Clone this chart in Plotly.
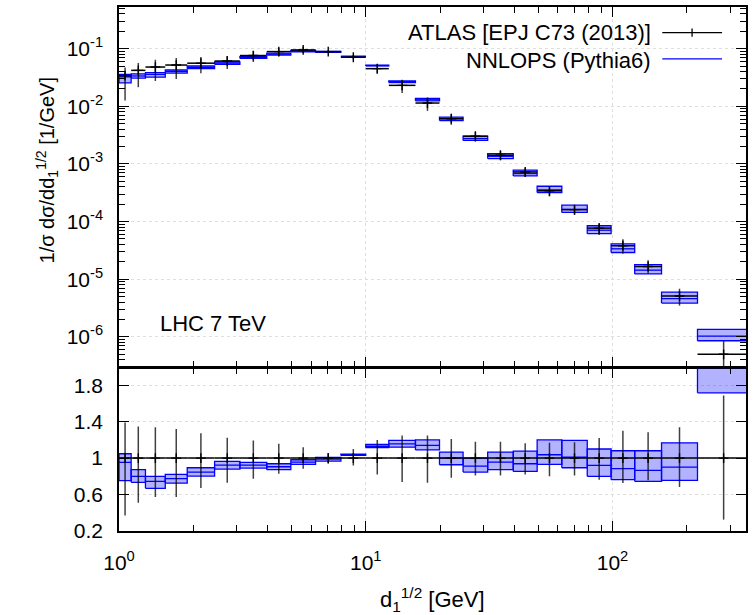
import plotly.graph_objects as go
import math

# ---- data ----
bin_edges = [1.0, 1.12, 1.28, 1.54, 1.89, 2.44, 3.09, 3.97, 4.97, 6.26, 7.93, 10.0,
             12.4, 15.9, 19.9, 24.8, 31.2, 39.6, 49.5, 62.3, 79.0, 98.7, 123.0,
             158.0, 221.0, 360.0]

atlas_val = [0.034, 0.042, 0.048, 0.052, 0.056, 0.061, 0.076, 0.089, 0.095, 0.089,
             0.071, 0.045, 0.0231, 0.0114, 0.0061, 0.00302, 0.00142, 0.000726,
             0.000342, 0.000161, 7.7e-5, 3.81e-5, 1.66e-5, 5.1e-6, 4.98e-7]
# relative uncertainties (up / down)
atlas_rel_up = [0.39, 0.347, 0.34, 0.32, 0.274, 0.224, 0.194, 0.158, 0.12, 0.055,
                0.10, 0.20, 0.249, 0.249, 0.21, 0.18, 0.18, 0.164, 0.168, 0.175,
                0.22, 0.30, 0.285, 0.34, 0.687]
atlas_rel_dn = [0.63, 0.489, 0.427, 0.427, 0.329, 0.27, 0.226, 0.171, 0.116, 0.062,
                0.08, 0.18, 0.263, 0.27, 0.215, 0.19, 0.19, 0.18, 0.20, 0.19,
                0.237, 0.274, 0.244, 0.318, 0.675]

# NNLOPS / ATLAS ratio: central, lower and upper band
nnlops_ratio = [0.953, 0.80, 0.745, 0.774, 0.847, 0.924, 0.923, 0.905, 0.956, 0.989,
                1.037, 1.13, 1.157, 1.139, 1.0, 0.913, 0.956, 0.938, 1.037, 1.011,
                0.92, 0.884, 0.865, 0.902, 2.07]
nnlops_ratio_lo = [0.752, 0.734, 0.668, 0.726, 0.803, 0.880, 0.891, 0.873, 0.931, 0.967,
                   1.030, 1.114, 1.12, 1.09, 0.927, 0.847, 0.873, 0.854, 0.931, 0.894,
                   0.80, 0.763, 0.745, 0.756, 1.717]
nnlops_ratio_hi = [1.048, 0.873, 0.80, 0.821, 0.894, 0.964, 0.953, 0.938, 0.982, 1.008,
                   1.044, 1.15, 1.194, 1.20, 1.066, 1.0, 1.066, 1.077, 1.20, 1.194,
                   1.10, 1.081, 1.081, 1.168, 2.7]

x_tick_vals = [1, 10, 100]
x_tick_text = ['10<sup>0</sup>', '10<sup>1</sup>', '10<sup>2</sup>']
y_tick_vals = [1e-6, 1e-5, 1e-4, 1e-3, 1e-2, 1e-1]
y_tick_text = ['10<sup>-6</sup>', '10<sup>-5</sup>', '10<sup>-4</sup>',
               '10<sup>-3</sup>', '10<sup>-2</sup>', '10<sup>-1</sup>']
r_tick_vals = [0.2, 0.6, 1.0, 1.4, 1.8]
r_tick_text = ['0.2', '0.6', '1', '1.4', '1.8']

# ---- derived ----
n = len(atlas_val)
lo_e = bin_edges[:-1]
hi_e = bin_edges[1:]
centers = [math.sqrt(a * b) for a, b in zip(lo_e, hi_e)]
ex_plus = [b - c for b, c in zip(hi_e, centers)]
ex_minus = [c - a for a, c in zip(lo_e, centers)]

mc_c = [v * r for v, r in zip(atlas_val, nnlops_ratio)]
mc_lo = [v * r for v, r in zip(atlas_val, nnlops_ratio_lo)]
mc_hi = [v * r for v, r in zip(atlas_val, nnlops_ratio_hi)]


def box_path(lo, hi):
    xs, ys = [], []
    for i in range(n):
        a, b = lo_e[i], hi_e[i]
        xs += [a, b, b, a, a, None]
        ys += [lo[i], lo[i], hi[i], hi[i], lo[i], None]
    return xs, ys


def step_path(vals):
    xs, ys = [], []
    for i in range(n):
        xs += [lo_e[i], hi_e[i], None]
        ys += [vals[i], vals[i], None]
    return xs, ys


BLUE = '#0000ff'
FILL = 'rgba(0,0,255,0.30)'
ERRC = 'rgba(0,0,0,0.75)'
FONT = 'Liberation Sans, Arial, sans-serif'

fig = go.Figure()

for (xa, ya, lo, hi, c, yv, up, dn) in [
        ('x', 'y', mc_lo, mc_hi, mc_c, atlas_val,
         [v * u for v, u in zip(atlas_val, atlas_rel_up)],
         [v * d for v, d in zip(atlas_val, atlas_rel_dn)]),
        ('x2', 'y2', nnlops_ratio_lo, nnlops_ratio_hi, nnlops_ratio, [1.0] * n,
         atlas_rel_up, atlas_rel_dn)]:
    bx, by = box_path(lo, hi)
    fig.add_trace(go.Scatter(x=bx, y=by, xaxis=xa, yaxis=ya, mode='lines',
                             fill='toself', fillcolor=FILL,
                             line=dict(color=BLUE, width=1.3), hoverinfo='skip',
                             showlegend=False))
    sx, sy = step_path(c)
    fig.add_trace(go.Scatter(x=sx, y=sy, xaxis=xa, yaxis=ya, mode='lines',
                             line=dict(color=BLUE, width=1.3), hoverinfo='skip',
                             showlegend=False))
    fig.add_trace(go.Scatter(
        x=centers, y=yv, xaxis=xa, yaxis=ya, mode='markers',
        marker=dict(symbol='cross-thin-open', size=7, color='black',
                    line=dict(color='black', width=1.4)),
        error_x=dict(type='data', symmetric=False, array=ex_plus,
                     arrayminus=ex_minus, width=0, thickness=1.5, color='black'),
        error_y=dict(type='data', symmetric=False, array=up, arrayminus=dn,
                     width=0, thickness=1.5, color=ERRC),
        showlegend=False, hoverinfo='skip'))

minor_x = [m * 10 ** k for k in range(0, 3) for m in range(2, 10)]
minor_y = [m * 10 ** k for k in range(-7, 0) for m in range(2, 10)]

TICKSIZE = 21
axis_common = dict(showline=True, linecolor='black', linewidth=1.5, mirror='ticks',
                   ticks='inside', tickcolor='black', tickwidth=1.2, ticklen=10,
                   showgrid=True, gridcolor='#dedede', griddash='dot', gridwidth=1,
                   zeroline=False,
                   tickfont=dict(family=FONT, size=TICKSIZE, color='black'))

x_range = [0, 2.541]
PLOT_H = 525.0
split = 0.313
gap = 1.5 / PLOT_H
fig.update_layout(
    width=753, height=615,
    margin=dict(l=119, r=5, t=6, b=84),
    paper_bgcolor='white', plot_bgcolor='white',
    showlegend=False,
    xaxis=dict(type='log', range=x_range, anchor='y', matches='x2',
               showticklabels=False, tickmode='array', tickvals=x_tick_vals,
               minor=dict(ticks='inside', ticklen=6, tickwidth=1.2, tickcolor='black',
                          tickmode='array', tickvals=minor_x, showgrid=False),
               **axis_common),
    yaxis=dict(type='log', range=[-6.523, -0.277], domain=[split, 1], anchor='x',
               tickmode='array', tickvals=y_tick_vals, ticktext=y_tick_text,
               ticklabelstandoff=10,
               minor=dict(ticks='inside', ticklen=6, tickwidth=1.2, tickcolor='black',
                          tickmode='array', tickvals=minor_y, showgrid=False),
               **axis_common),
    xaxis2=dict(type='log', range=x_range, anchor='y2',
                tickmode='array', tickvals=x_tick_vals, ticktext=x_tick_text,
                ticklabelstandoff=12,
                minor=dict(ticks='inside', ticklen=6, tickwidth=1.2, tickcolor='black',
                           tickmode='array', tickvals=minor_x, showgrid=False),
                **axis_common),
    yaxis2=dict(range=[0.2, 2.0 - 1.5 / 91.3], domain=[0, split - gap], anchor='x2',
                tickmode='array', tickvals=r_tick_vals, ticktext=r_tick_text,
                ticklabelstandoff=10, **axis_common),
)

# opaque key box covering the grid behind the legend
fig.add_shape(type='rect', xref='paper', yref='paper', x0=0.423, x1=0.998,
              y0=0.875, y1=0.997, fillcolor='white', line=dict(width=0),
              layer='between')

LEGSIZE = 22
# legend (text right-aligned, sample to the right as in the reference)
fig.add_annotation(xref='paper', yref='paper', x=0.852, y=0.951, xanchor='right',
                   yanchor='middle', showarrow=False, text='ATLAS [EPJ C73 (2013)]',
                   font=dict(family=FONT, size=LEGSIZE, color='black'))
fig.add_annotation(xref='paper', yref='paper', x=0.852, y=0.897, xanchor='right',
                   yanchor='middle', showarrow=False, text='NNLOPS (Pythia6)',
                   font=dict(family=FONT, size=LEGSIZE, color='black'))
fig.add_shape(type='line', xref='paper', yref='paper', x0=0.8665, x1=0.9618,
              y0=0.951, y1=0.951, line=dict(color='black', width=1.3))
fig.add_shape(type='line', xref='paper', yref='paper', x0=0.914, x1=0.914,
              y0=0.943, y1=0.959, line=dict(color='black', width=1.3))
fig.add_shape(type='line', xref='paper', yref='paper', x0=0.8665, x1=0.9618,
              y0=0.901, y1=0.901, line=dict(color=BLUE, width=1.3))

fig.add_annotation(xref='paper', yref='paper', x=0.062, y=0.396, xanchor='left',
                   yanchor='middle', showarrow=False, text='LHC 7 TeV',
                   font=dict(family=FONT, size=22, color='black'))

fig.add_annotation(xref='paper', yref='paper', x=0.5, y=-0.131, xanchor='center',
                   yanchor='middle', showarrow=False,
                   text='d<sub>1</sub><sup>1/2</sup> [GeV]',
                   font=dict(family=FONT, size=22, color='black'))
fig.add_annotation(xref='paper', yref='paper', x=0, xshift=-72, y=0.688,
                   xanchor='center', yanchor='middle', showarrow=False, textangle=-90,
                   text='1/σ dσ/dd<sub>1</sub><sup>1/2</sup> [1/GeV]',
                   font=dict(family=FONT, size=20, color='black'))

fig.write_html('out.html', config={'displayModeBar': False},
               post_script="document.body.style.margin='0';"
                           "document.body.style.overflow='hidden';")
